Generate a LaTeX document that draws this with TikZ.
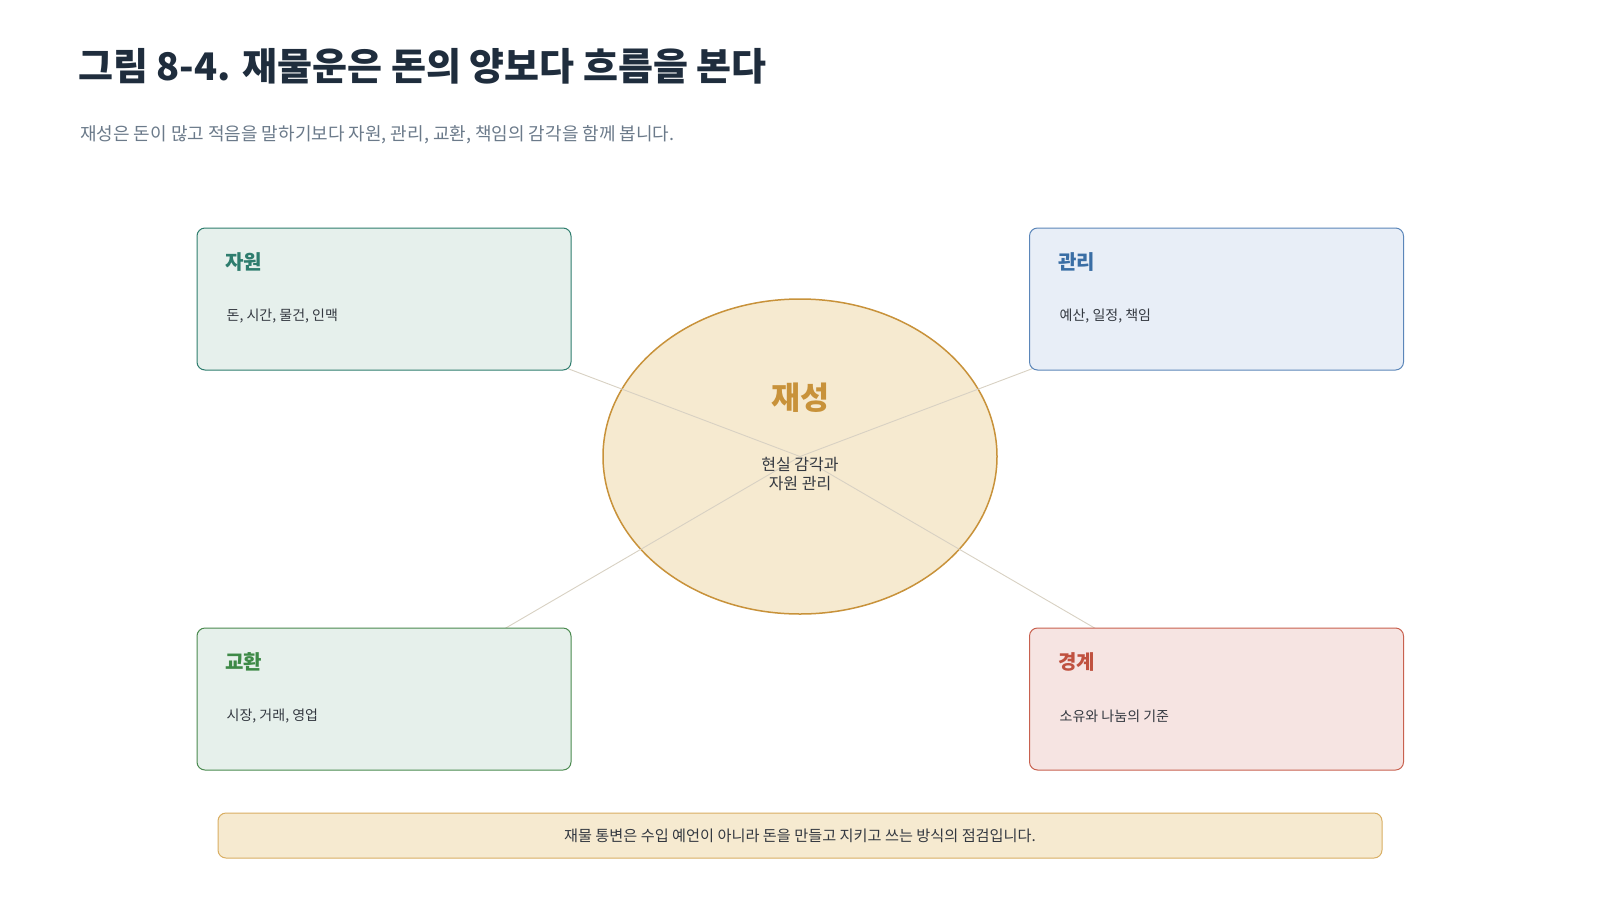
\documentclass[tikz,border=0pt]{standalone}
\usepackage{fontspec}
\setmainfont{Noto Sans CJK KR}
\usetikzlibrary{positioning}
\definecolor{titlec}{HTML}{1F2D3D}
\definecolor{subc}{HTML}{6B7A8A}
\definecolor{bodyc}{HTML}{333840}
\definecolor{linkc}{HTML}{D8D1C3}
\definecolor{tealb}{HTML}{2E7D6E}
\definecolor{tealf}{HTML}{E6F0EC}
\definecolor{blueb}{HTML}{5B86B9}
\definecolor{bluet}{HTML}{3A6EA5}
\definecolor{bluef}{HTML}{E8EEF7}
\definecolor{greenb}{HTML}{4A8A4F}
\definecolor{greent}{HTML}{3E8A47}
\definecolor{greenf}{HTML}{E6F0EB}
\definecolor{redb}{HTML}{C8614F}
\definecolor{redt}{HTML}{C0513F}
\definecolor{redf}{HTML}{F6E4E2}
\definecolor{goldb}{HTML}{C8923A}
\definecolor{goldf}{HTML}{F6EAD0}
\definecolor{barb}{HTML}{D9AE62}
\tikzset{
  card/.style={draw=#1, line width=1pt, rounded corners=8pt, minimum width=374pt, minimum height=142pt, inner sep=0pt},
  cardtitle/.style={anchor=west, inner sep=0pt, font=\fontsize{20}{24}\selectfont\bfseries},
  cardbody/.style={anchor=west, inner sep=0pt, text=bodyc, font=\fontsize{14}{17}\selectfont},
  link/.style={draw=linkc, line width=0.9pt}
}
\begin{document}
\begin{tikzpicture}[x=1pt,y=-1pt]
\useasboundingbox (0,0) rectangle (1600,900);
\fill[white] (0,0) rectangle (1600,900);
% title
\node[anchor=west, inner sep=0pt, text=titlec, font=\fontsize{38}{44}\selectfont\bfseries] (title) at (78,66) {그림 8-4. 재물운은 돈의 양보다 흐름을 본다};
\node[anchor=west, inner sep=0pt, text=subc, font=\fontsize{18}{22}\selectfont] (sub) at (80,135) {재성은 돈이 많고 적음을 말하기보다 자원, 관리, 교환, 책임의 감각을 함께 봅니다.};
% center ellipse
\draw[goldb, fill=goldf, line width=1.5pt] (800,456.5) ellipse [x radius=197, y radius=157.5];
\coordinate (c) at (800,456.5);
% card centres
\coordinate (ca) at (384,299);
\coordinate (cb) at (1216.5,299);
\coordinate (cc) at (384,699);
\coordinate (cd) at (1216.5,699);
\draw[link] (c) -- (ca);
\draw[link] (c) -- (cb);
\draw[link] (c) -- (cc);
\draw[link] (c) -- (cd);
\node[text=goldb, inner sep=0pt, font=\fontsize{31.5}{36}\selectfont\bfseries] (core) at (800,398) {재성};
\node[text=bodyc, inner sep=0pt, align=center, font=\fontsize{16}{18.5}\selectfont] (coresub) at (800,474) {현실 감각과\\자원 관리};
% cards
\node[card=tealb, fill=tealf] (a) at (ca) {};
\node[cardtitle, text=tealb] (at) at (225,262) {자원};
\node[cardbody] (ab) at (226.5,316) {돈, 시간, 물건, 인맥};
\node[card=blueb, fill=bluef] (b) at (cb) {};
\node[cardtitle, text=bluet] (bt) at (1058,262) {관리};
\node[cardbody] (bb) at (1059.5,316) {예산, 일정, 책임};
\node[card=greenb, fill=greenf] (cn) at (cc) {};
\node[cardtitle, text=greent] (ct) at (225,662) {교환};
\node[cardbody] (cbd) at (226.5,716) {시장, 거래, 영업};
\node[card=redb, fill=redf] (d) at (cd) {};
\node[cardtitle, text=redt] (dt) at (1058,662) {경계};
\node[cardbody] (db) at (1059.5,716) {소유와 나눔의 기준};
% bottom bar
\node[draw=barb, fill=goldf, line width=1pt, rounded corners=8pt, minimum width=1164pt, minimum height=45pt, inner sep=0pt, text=bodyc, font=\fontsize{15.2}{18}\selectfont] (bar) at (800,835.5) {재물 통변은 수입 예언이 아니라 돈을 만들고 지키고 쓰는 방식의 점검입니다.};
\end{tikzpicture}
\end{document}
